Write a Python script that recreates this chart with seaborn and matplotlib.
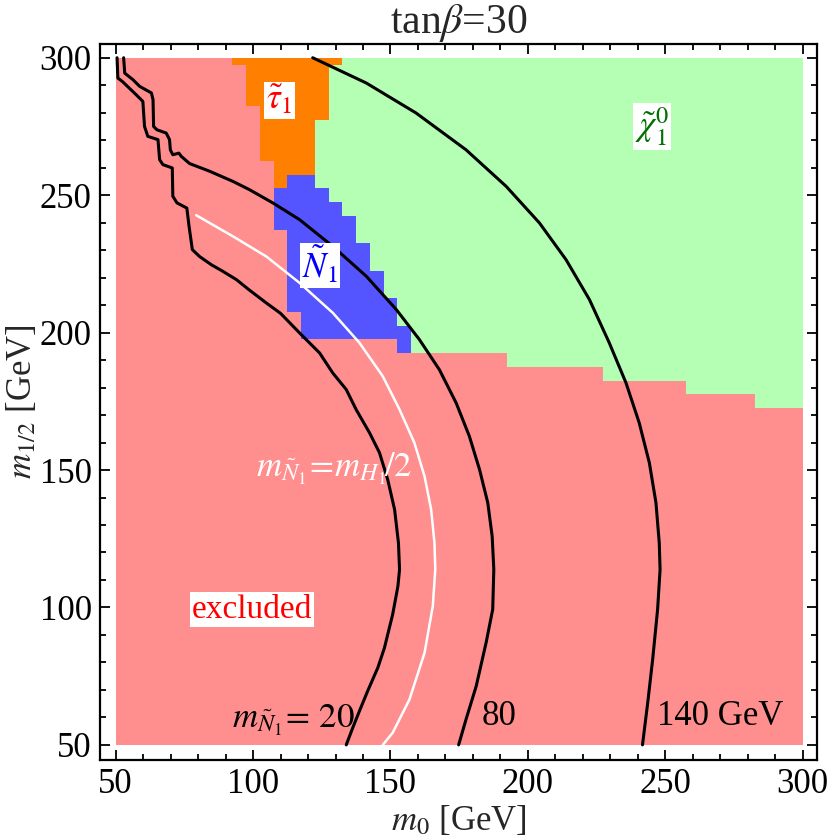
import numpy as np
import matplotlib
matplotlib.use('Agg')
import matplotlib.pyplot as plt
import seaborn as sns
from matplotlib.colors import ListedColormap
from matplotlib.ticker import MultipleLocator

sns.set_theme(style='ticks')
plt.rcParams['font.family'] = ['Liberation Serif', 'DejaVu Serif']
plt.rcParams['mathtext.fontset'] = 'stix'

nan = np.nan
# ---- region map (5 GeV grid), per m_1/2 row: first m0 of each region ----
m0_grid = np.arange(50, 301, 5)
mhalf_grid = np.arange(50, 301, 5)
row_mhalf =    [300, 295, 290, 285, 280, 275, 270, 265, 260, 255, 250, 245, 240,
                235, 230, 225, 220, 215, 210, 205, 200, 195, 190, 185, 180, 175]
orange_start = [95, 100, 100, 100, 105, 105, 105, 105, 110, 110, nan, nan, nan,
                nan, nan, nan, nan, nan, nan, nan, nan, nan, nan, nan, nan, nan]
blue_start =   [nan, nan, nan, nan, nan, nan, nan, nan, nan, 115, 110, 110, 110,
                115, 115, 115, 115, 115, 115, 120, 120, 155, nan, nan, nan, nan]
green_start =  [135, 130, 130, 130, 130, 125, 125, 125, 125, 125, 130, 135, 140,
                140, 145, 145, 150, 150, 155, 155, 160, 160, 195, 230, 260, 285]

# ---- sneutrino mass contours (m0, m1/2) ----
c20_m0 = [50.5, 50.8, 52.4, 57.5, 59.9, 60.5, 61.7, 65.4, 66.0, 67.2, 70.6, 70.8, 72.3,
          75.9, 76.7, 77.9, 80.5, 84.8, 89.0, 93.9, 98.5, 104.8, 110.0, 116.9, 124.2,
          129.0, 133.9, 137.5, 142.4, 146.0, 149.0, 151.5, 152.9, 153.3, 152.7,
          150.8, 147.8, 145.4, 141.7, 138.7, 136.3, 133.9]
c20_mh = [300, 292.6, 291.4, 286.5, 284.1, 275.0, 271.4, 270.2, 262.9, 261.1, 259.9, 249.6,
          247.2, 245.3, 238.7, 230.2, 227.7, 224.7, 222.3, 219.3, 215.6, 210.8, 207.0,
          199.9, 192.6, 185.3, 179.3, 172.0, 163.5, 156.3, 146.5, 135.6, 123.5, 113.8,
          107.7, 97.5, 85.3, 78.1, 69.6, 62.3, 56.3, 50]
c80_m0 = [52.9, 53.3, 56.3, 58.7, 63.0, 63.6, 63.8, 65.0, 68.4, 69.6, 69.9, 70.8, 73.0,
          73.9, 76.9, 84.2, 92.7, 98.7, 107.5, 116.9, 129.0, 141.2, 152.1, 160.5, 167.8,
          173.9, 178.7, 182.4, 185.4, 187.0, 187.6, 187.2, 184.8, 181.2, 177.5, 174.8]
c80_mh = [300, 294.4, 292.0, 289.6, 287.2, 284.7, 275.0, 273.8, 272.6, 270.2, 266.5, 264.7,
          265.3, 264.1, 261.5, 258.7, 255.0, 252.0, 247.0, 241.1, 231.4, 220.5, 208.4,
          197.5, 186.5, 174.4, 162.3, 150.2, 138.1, 125.9, 113.8, 99.3, 87.2, 71.4, 59.3, 50]
c140_m0 = [121.7, 141.2, 159.3, 177.5, 192.1, 204.2, 213.9, 222.4, 229.6, 235.7, 240.5,
           244.2, 246.6, 247.8, 248.1, 247.2, 245.4, 243.6, 241.7]
c140_mh = [300, 290.8, 279.9, 266.5, 253.2, 239.9, 226.5, 212.0, 196.3, 181.7, 167.2,
           152.6, 138.1, 123.5, 113.8, 99.3, 81.1, 65.3, 50]
# m_N1 = m_H1/2 line
half_m0 = [79.3, 92.7, 104.8, 116.9, 129.0, 138.7, 147.2, 153.3, 158.7, 162.4, 164.8,
           166.0, 166.3, 165.4, 162.4, 156.9, 150.8, 147.2]
half_mh = [242.7, 235.0, 227.7, 218.1, 207.2, 196.3, 184.1, 172.0, 159.9, 147.7, 135.6,
           123.5, 113.8, 100.5, 83.5, 66.5, 54.4, 50]

# build category grid: 0 red, 1 orange, 2 blue, 3 green
Z = np.zeros((len(mhalf_grid), len(m0_grid)))
for r, mh in enumerate(row_mhalf):
    i = int(np.where(mhalf_grid == mh)[0][0])
    for j, m0 in enumerate(m0_grid):
        code = 0
        if not np.isnan(orange_start[r]) and m0 >= orange_start[r]:
            code = 1
        if not np.isnan(blue_start[r]) and m0 >= blue_start[r]:
            code = 2
        if m0 >= green_start[r]:
            code = 3
        Z[i, j] = code

x_edges = np.concatenate([[50], np.arange(52.5, 300, 5), [300]])
y_edges = np.concatenate([[50], np.arange(52.5, 300, 5), [300]])

fig = plt.figure(figsize=(8.3, 8.4), dpi=100)
ax = fig.add_axes([100/830, 1-760/840, 717/830, 716/840])
ax.set_facecolor('white')
cmap = ListedColormap(['#ff8e8e', '#ff8000', '#5555ff', '#b4ffb4'])
ax.pcolormesh(x_edges, y_edges, Z, cmap=cmap, vmin=-0.5, vmax=3.5, shading='flat',
              edgecolors='none', antialiased=False)

for xs, ys in [(c20_m0, c20_mh), (c80_m0, c80_mh), (c140_m0, c140_mh)]:
    sns.lineplot(x=xs, y=ys, sort=False, estimator=None, color='black', lw=2.2, ax=ax,
                 solid_joinstyle='round')
sns.lineplot(x=half_m0, y=half_mh, sort=False, estimator=None, color='white', lw=1.8, ax=ax,
             solid_joinstyle='round')

ax.set_xlim(44.3, 305.2)
ax.set_ylim(44.5, 305.0)
ax.xaxis.set_major_locator(MultipleLocator(50))
ax.xaxis.set_minor_locator(MultipleLocator(10))
ax.yaxis.set_major_locator(MultipleLocator(50))
ax.yaxis.set_minor_locator(MultipleLocator(10))
ax.tick_params(which='both', direction='in', top=True, right=True, labelsize=25,
               width=1.3, colors='black', pad=6)
ax.tick_params(which='major', length=7)
ax.tick_params(which='minor', length=4)
for s in ax.spines.values():
    s.set_linewidth(1.6)
    s.set_color('black')

ax.set_xlabel(r'$m_0$ [GeV]', fontsize=25, labelpad=2)
ax.set_ylabel(r'$m_{1/2}$ [GeV]', fontsize=25)
ax.yaxis.set_label_coords(-0.085, 0.5)
ax.set_title(r'tan$\beta$=30', fontsize=30, pad=4)

box = dict(facecolor='white', edgecolor='none', pad=1.5)
ax.text(109.6, 284.5, r'$\tilde{\tau}_1$', color='red', fontsize=25, ha='center', va='center', bbox=box)
ax.text(124.5, 224.5, r'$\tilde{N}_1$', color='blue', fontsize=25, ha='center', va='center', bbox=box)
ax.text(245.0, 275.0, r'$\tilde{\chi}_1^0$', color='#007000', fontsize=25, ha='center', va='center', bbox=box)
ax.text(99.6, 99.3, 'excluded', color='red', fontsize=24, ha='center', va='center', bbox=box)
ax.text(129.6, 150.5, r'$m_{\tilde{N}_1}\!=\!m_{H_1}\!/2$', color='white', fontsize=25, ha='center', va='center')
ax.text(114.8, 59.0, r'$m_{\tilde{N}_1}\!=\,20$', color='black', fontsize=25, ha='center', va='center')
ax.text(189.6, 60.4, '80', color='black', fontsize=25, ha='center', va='center')
ax.text(269.8, 60.4, '140 GeV', color='black', fontsize=25, ha='center', va='center')

fig.savefig('out.png', dpi=100, facecolor='white')
